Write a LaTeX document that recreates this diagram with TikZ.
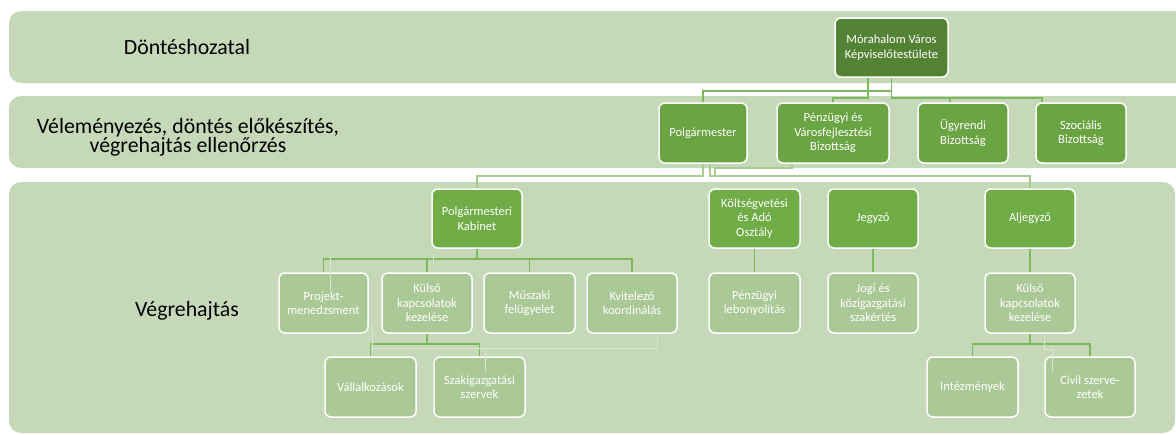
\documentclass[tikz,border=0pt]{standalone}
\usepackage{fontspec}
\setmainfont{Carlito}
\definecolor{band}{HTML}{C5D9B9}
\definecolor{dkgreen}{HTML}{548235}
\definecolor{mdgreenA}{HTML}{6BA443}
\definecolor{mdgreen}{HTML}{70AD47}
\definecolor{ltgreen}{HTML}{AAC996}
\definecolor{lngreen}{HTML}{7FB85C}
\definecolor{lnpale}{HTML}{A6CD8C}
\definecolor{ghostc}{HTML}{D6E5CD}
\begin{document}
\begin{tikzpicture}[x=1pt,y=-1pt,
  box/.style={draw=white, line width=1.5pt, rounded corners=6pt, text=white, align=center,
    font=\fontsize{12.5}{14.5}\selectfont, inner sep=0pt, minimum width=90pt, minimum height=60pt},
  dk/.style={box, fill=dkgreen},
  mdA/.style={box, fill=mdgreenA},
  md/.style={box, fill=mdgreen},
  lt/.style={box, fill=ltgreen},
  lbl/.style={align=center, text=black, font=\fontsize{21.8}{19.5}\selectfont},
  conn/.style={draw=lngreen, line width=1.2pt},
  connp/.style={draw=lnpale, line width=1.2pt},
  ghost/.style={draw=ghostc, line width=1pt},
  bandbox/.style={fill=band, rounded corners=12pt}]
\useasboundingbox (0,0) rectangle (1176,434);
\fill[white] (0,0) rectangle (1176,434);
\clip (0,0) rectangle (1176,434);
% bands
\fill[bandbox] (9,11) rectangle (1200,83);
\fill[bandbox] (9,96) rectangle (1200,168);
\fill[bandbox] (9,182) rectangle (1175,433);
% band labels
\node[lbl] (L1) at (187,47) {Döntéshozatal};
\node[lbl] (L2) at (188,137.5) {Véleményezés, döntés előkészítés,\\végrehajtás ellenőrzés};
\node[lbl] (L3) at (187,311) {Végrehajtás};
% helper levels
\coordinate (y91) at (0,91);
\coordinate (y98) at (0,98);
\coordinate (y168) at (0,168);
\coordinate (y176) at (0,176);
\coordinate (y259) at (0,259);
\coordinate (y344) at (0,344);
\coordinate (y348) at (0,348);
% nodes
\node[dk, minimum width=113pt, minimum height=59pt] (M) at (891.5,47.5) {Mórahalom Város\\Képviselőtestülete};
\node[mdA, minimum width=88pt] (Pol) at (703,133) {Polgármester};
\node[mdA, minimum width=112pt] (PVB) at (833,133) {Pénzügyi és\\Városfejlesztési\\Bizottság};
\node[mdA] (Ugy) at (963,133) {Ügyrendi\\Bizottság};
\node[mdA] (Szoc) at (1081,133) {Szociális\\Bizottság};
\node[md, minimum height=59pt] (Kab) at (477,218.5) {Polgármesteri\\Kabinet};
\node[md, minimum width=91pt, minimum height=59pt] (Kolt) at (754.5,218.5) {Költségvetési\\és Adó\\Osztály};
\node[md, minimum height=59pt] (Jegy) at (873,218.5) {Jegyző};
\node[md, minimum height=59pt] (Alj) at (1030,218.5) {Aljegyző};
\node[lt, minimum width=89pt] (Proj) at (323.5,303) {Projekt-\\menedzsment};
\node[lt] (Kul1) at (427,303) {Külső\\kapcsolatok\\kezelése};
\node[lt, minimum width=91pt] (Musz) at (529.5,303) {Műszaki\\felügyelet};
\node[lt] (Kvit) at (632,303) {Kvitelező\\koordinálás};
\node[lt, minimum width=91pt] (Penz) at (754.5,303) {Pénzügyi\\lebonyolítás};
\node[lt] (Jogi) at (873,303) {Jogi és\\közigazgatási\\szakértés};
\node[lt] (Kul2) at (1030,303) {Külső\\kapcsolatok\\kezelése};
\node[lt, minimum width=91pt] (Vall) at (370.5,387) {Vállalkozások};
\node[lt, minimum width=91pt] (Szak) at (479.5,387) {Szakigazgatási\\szervek};
\node[lt, minimum width=91pt] (Int) at (972.5,387) {Intézmények};
\node[lt] (Civ) at (1090,387) {Civil szerve-\\zetek};
% connectors from the council
\draw[conn] ([xshift=-23.5pt]M.south) |- (PVB.north |- y98) -- (PVB.north);
\draw[conn] (M.south) |- (Pol.north |- y91) -- (Pol.north);
\draw[conn] (M.south) |- ([xshift=-39pt]Szoc.north |- y98) -- ([xshift=-39pt]Szoc.north);
\draw[conn] ([xshift=-13pt]Ugy.north |- y98) -- ([xshift=-13pt]Ugy.north);
% connectors from the mayor
\draw[connp] (Pol.south) |- (Kab.north |- y176) -- (Kab.north);
\draw[connp] ([xshift=7pt]Pol.south) |- (Alj.north |- y176) -- (Alj.north);
\draw[connp] ([xshift=-41pt]PVB.south) |- ([xshift=12pt]Pol.south |- y168) -- ([xshift=12pt]Pol.south |- y176);
% cabinet
\draw[conn] (Kab.south) -- (Kab.south |- y259);
\draw[conn] (Proj.north) -- (Proj.north |- y259) -- (Kvit.north |- y259) -- (Kvit.north);
\draw[conn] (Kul1.north |- y259) -- (Kul1.north);
\draw[conn] (Musz.north |- y259) -- (Musz.north);
\draw[conn] (Kul1.south) -- (Kul1.south |- y344);
\draw[conn] (Vall.north) -- (Vall.north |- y344) -- (Szak.north |- y344) -- (Szak.north);
% other columns
\draw[conn] (Kolt.south) -- (Penz.north);
\draw[conn] (Jegy.south) -- (Jogi.north);
\draw[conn] (Alj.south) -- (Kul2.north);
\draw[conn] (Kul2.south) -- (Kul2.south |- y344);
\draw[conn] (Int.north) -- (Int.north |- y344) -- (Civ.north |- y344) -- (Civ.north);
% faint ghost lines
\draw[ghost] (372,325) -- (372,348) -- (657,348) -- (Kvit.south -| 657,0);
\draw[ghost] (485,348) -- (485,372);
\draw[ghost] (330,254) -- (330,290);
\draw[ghost] (433,254) -- (433,266);
\draw[ghost] (1044,333) -- (1044,349) -- (1052,349) -- (1052,372);
\end{tikzpicture}
\end{document}
